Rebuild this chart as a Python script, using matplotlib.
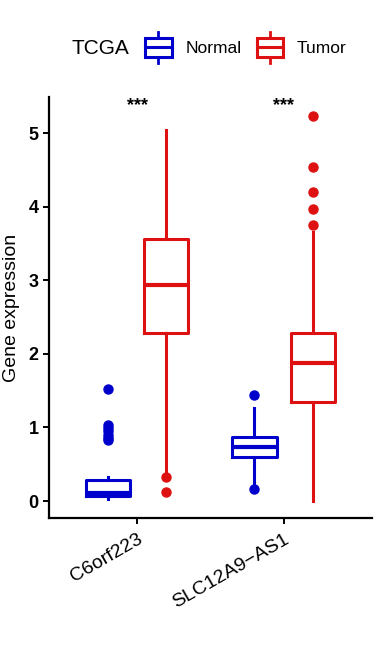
import matplotlib
matplotlib.use("Agg")
import matplotlib.pyplot as plt
from matplotlib.legend_handler import HandlerBase
from matplotlib.patches import Rectangle
from matplotlib.lines import Line2D

plt.rcParams['font.family'] = ['Liberation Sans', 'DejaVu Sans']

genes = ["C6orf223", "SLC12A9\u2212AS1"]
groups = ["Normal", "Tumor"]
colors = {"Normal": "#0000CC", "Tumor": "#DD1111"}

normal_q1 = [0.07, 0.60]
normal_med = [0.11, 0.73]
normal_q3 = [0.28, 0.87]
normal_wlo = [0.03, 0.18]
normal_whi = [0.33, 1.26]
normal_fliers = [[1.52, 1.03, 0.99, 0.95, 0.90, 0.86, 0.83], [1.44, 0.16]]

tumor_q1 = [2.28, 1.34]
tumor_med = [2.93, 1.87]
tumor_q3 = [3.56, 2.29]
tumor_wlo = [0.37, 0.0]
tumor_whi = [5.04, 3.66]
tumor_fliers = [[0.33, 0.12], [5.23, 4.54, 4.20, 3.97, 3.75]]

signif = ["***", "***"]
yticks = [0, 1, 2, 3, 4, 5]

data = {
    "Normal": (normal_q1, normal_med, normal_q3, normal_wlo, normal_whi, normal_fliers),
    "Tumor": (tumor_q1, tumor_med, tumor_q3, tumor_wlo, tumor_whi, tumor_fliers),
}

fig = plt.figure(figsize=(3.87, 6.45), dpi=100)
ax = fig.add_axes([0.1266, 0.1969, 0.961 - 0.1266, 0.8496 - 0.1969])

offsets = {"Normal": -0.2, "Tumor": 0.2}
lw = 2.2
for g in groups:
    q1, med, q3, wlo, whi, fl = data[g]
    stats = []
    for i in range(len(genes)):
        stats.append(dict(q1=q1[i], med=med[i], q3=q3[i], whislo=wlo[i],
                          whishi=whi[i], fliers=fl[i]))
    pos = [i + 1 + offsets[g] for i in range(len(genes))]
    c = colors[g]
    ax.bxp(stats, positions=pos, widths=0.3, showcaps=False, patch_artist=False,
           boxprops=dict(color=c, linewidth=lw),
           medianprops=dict(color=c, linewidth=lw + 0.8),
           whiskerprops=dict(color=c, linewidth=lw),
           flierprops=dict(marker='o', markerfacecolor=c, markeredgecolor=c,
                           markersize=6.5, linestyle='none'))

for i, s in enumerate(signif):
    ax.text(i + 1, 5.37, s, ha='center', va='center', fontsize=13, fontweight='bold')

ax.set_xlim(0.4, 2.6)
ax.set_ylim(-0.23, 5.49)
ax.set_xticks([1, 2])
ax.set_xticklabels(genes, rotation=30, ha='right', rotation_mode='anchor', fontsize=14)
ax.set_yticks(yticks)
ax.set_yticklabels([str(v) for v in yticks], fontsize=13, fontweight='bold')
ax.set_ylabel("Gene expression", fontsize=14, labelpad=6)
for sp in ['top', 'right']:
    ax.spines[sp].set_visible(False)
for sp in ['left', 'bottom']:
    ax.spines[sp].set_linewidth(1.6)
ax.tick_params(axis='both', width=1.4, length=4, color='black')
ax.tick_params(axis='x', pad=5)


class BoxHandler(HandlerBase):
    def create_artists(self, legend, orig_handle, xdescent, ydescent, width, height, fontsize, trans):
        c = orig_handle.get_color()
        cx = -xdescent + width / 2
        bw = width * 0.8
        bh = height * 1.25
        cy = -ydescent + height / 2
        rect = Rectangle((cx - bw / 2, cy - bh / 2), bw, bh, facecolor='white',
                         edgecolor=c, linewidth=2.2, transform=trans)
        med = Line2D([cx - bw / 2, cx + bw / 2], [cy, cy], color=c, linewidth=2.2, transform=trans)
        w1 = Line2D([cx, cx], [cy + bh / 2, cy + bh / 2 + height * 0.35], color=c, linewidth=2, transform=trans)
        w2 = Line2D([cx, cx], [cy - bh / 2, cy - bh / 2 - height * 0.35], color=c, linewidth=2, transform=trans)
        return [w1, w2, rect, med]


handles = [Line2D([], [], color=colors[g]) for g in groups]
fig.text(72 / 387, 1 - 48 / 645, "TCGA", fontsize=15, va='center', ha='left')
leg = fig.legend(handles, groups, handler_map={Line2D: BoxHandler()},
                 loc='center left', bbox_to_anchor=(142 / 387, 1 - 48 / 645),
                 ncol=2, frameon=False, fontsize=12.5, handlelength=1.9,
                 handleheight=1.0, columnspacing=0.7, handletextpad=0.6,
                 borderpad=0, borderaxespad=0)

fig.savefig("out.png", dpi=100)
